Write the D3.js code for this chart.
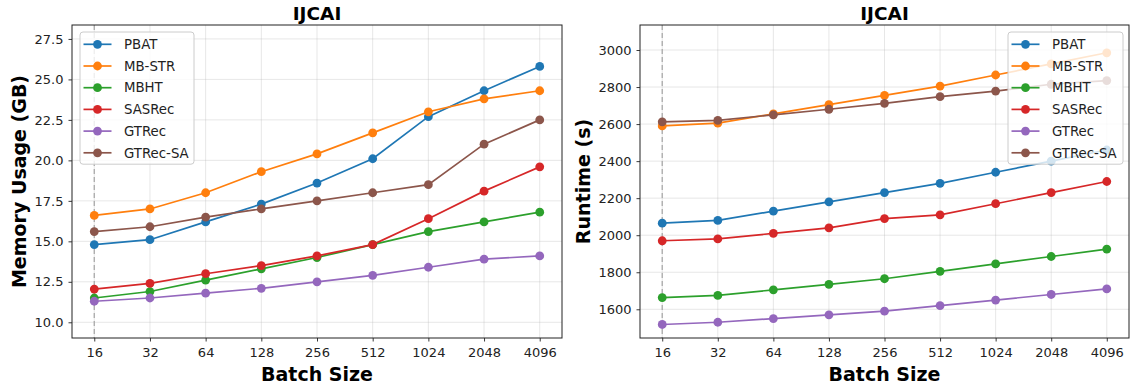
<!DOCTYPE html>
<html>
<head>
<meta charset="utf-8">
<script src="https://cdn.jsdelivr.net/npm/d3@7"></script>
<style>
  body { margin: 0; background: #fff; }
  svg { display: block; }
  text { font-family: "DejaVu Sans", sans-serif; }
</style>
</head>
<body>
<svg id="chart" width="1131" height="390"></svg>
<script>
// ---- data ----
const batchSizes = ["16", "32", "64", "128", "256", "512", "1024", "2048", "4096"];
const seriesNames = ["PBAT", "MB-STR", "MBHT", "SASRec", "GTRec", "GTRec-SA"];
const seriesColors = ["#1f77b4", "#ff7f0e", "#2ca02c", "#d62728", "#9467bd", "#8c564b"];

// Memory usage (GB)
const memPBAT    = [14.8, 15.1, 16.2, 17.3, 18.6, 20.1, 22.7, 24.3, 25.8];
const memMBSTR   = [16.6, 17.0, 18.0, 19.3, 20.4, 21.7, 23.0, 23.8, 24.3];
const memMBHT    = [11.5, 11.9, 12.6, 13.3, 14.0, 14.8, 15.6, 16.2, 16.8];
const memSASRec  = [12.05, 12.4, 13.0, 13.5, 14.1, 14.8, 16.4, 18.1, 19.6];
const memGTRec   = [11.3, 11.5, 11.8, 12.1, 12.5, 12.9, 13.4, 13.9, 14.1];
const memGTRecSA = [15.6, 15.9, 16.5, 17.0, 17.5, 18.0, 18.5, 21.0, 22.5];
const memTicks = [10.0, 12.5, 15.0, 17.5, 20.0, 22.5, 25.0, 27.5];

// Runtime (s)
const rtPBAT    = [2065, 2080, 2130, 2180, 2230, 2280, 2340, 2400, 2460];
const rtMBSTR   = [2590, 2605, 2655, 2705, 2755, 2805, 2865, 2925, 2985];
const rtMBHT    = [1663, 1675, 1705, 1735, 1765, 1805, 1845, 1885, 1925];
const rtSASRec  = [1970, 1980, 2010, 2040, 2090, 2110, 2170, 2230, 2290];
const rtGTRec   = [1518, 1530, 1550, 1570, 1590, 1620, 1650, 1680, 1710];
const rtGTRecSA = [2612, 2620, 2650, 2680, 2712, 2748, 2778, 2815, 2835];
const rtTicks = [1600, 1800, 2000, 2200, 2400, 2600, 2800, 3000];

const panels = [
  { title: "IJCAI", ylabel: "Memory Usage (GB)", series: [memPBAT, memMBSTR, memMBHT, memSASRec, memGTRec, memGTRecSA],
    yDomain: [9.03, 28.36], yTicks: memTicks, yFmt: d3.format(".1f"),
    box: { x0: 72, x1: 562, y0: 25, y1: 338 }, ylabelX: 26, legend: { x: 80, y: 32, w: 114 } },
  { title: "IJCAI", ylabel: "Runtime (s)", series: [rtPBAT, rtMBSTR, rtMBHT, rtSASRec, rtGTRec, rtGTRecSA],
    yDomain: [1445, 3135], yTicks: rtTicks, yFmt: d3.format("d"),
    box: { x0: 640, x1: 1129, y0: 25, y1: 338 }, ylabelX: 590, legend: { x: 1008, y: 32, w: 115 } }
];

const svg = d3.select("#chart");

panels.forEach(p => {
  const b = p.box;
  const x = d3.scaleLinear().domain([-0.4, batchSizes.length - 1 + 0.4]).range([b.x0, b.x1]);
  const y = d3.scaleLinear().domain(p.yDomain).range([b.y1, b.y0]);
  const g = svg.append("g");

  // grid
  g.append("g").selectAll("line.gx").data(batchSizes).join("line")
    .attr("x1", (d, i) => x(i)).attr("x2", (d, i) => x(i))
    .attr("y1", b.y0).attr("y2", b.y1)
    .attr("stroke", "#b0b0b0").attr("stroke-opacity", 0.35).attr("stroke-width", 0.9);
  g.append("g").selectAll("line.gy").data(p.yTicks).join("line")
    .attr("x1", b.x0).attr("x2", b.x1)
    .attr("y1", d => y(d)).attr("y2", d => y(d))
    .attr("stroke", "#b0b0b0").attr("stroke-opacity", 0.35).attr("stroke-width", 0.9);

  // dashed vertical at first batch size
  g.append("line")
    .attr("x1", x(0)).attr("x2", x(0)).attr("y1", b.y0).attr("y2", b.y1)
    .attr("stroke", "#aaaaaa").attr("stroke-width", 1.3).attr("stroke-dasharray", "5,3");

  // series
  const line = d3.line().x((d, i) => x(i)).y(d => y(d));
  p.series.forEach((vals, si) => {
    g.append("path").datum(vals)
      .attr("d", line).attr("fill", "none")
      .attr("stroke", seriesColors[si]).attr("stroke-width", 1.7);
    g.append("g").selectAll("circle").data(vals).join("circle")
      .attr("cx", (d, i) => x(i)).attr("cy", d => y(d)).attr("r", 4.4)
      .attr("fill", seriesColors[si]);
  });

  // axes
  const xAxis = d3.axisBottom(x).tickValues(d3.range(batchSizes.length))
    .tickFormat(i => batchSizes[i]).tickSize(3.5).tickPadding(6).tickSizeOuter(0);
  const yAxis = d3.axisLeft(y).tickValues(p.yTicks).tickFormat(p.yFmt)
    .tickSize(3.5).tickPadding(5).tickSizeOuter(0);
  const gx = g.append("g").attr("transform", `translate(0,${b.y1})`).call(xAxis);
  const gy = g.append("g").attr("transform", `translate(${b.x0},0)`).call(yAxis);
  [gx, gy].forEach(a => {
    a.select(".domain").remove();
    a.selectAll("line").attr("stroke", "#222").attr("stroke-width", 0.9);
    a.selectAll("text").attr("fill", "#222").style("font-size", "13px").style("font-family", "DejaVu Sans");
  });

  // frame
  g.append("rect").attr("x", b.x0).attr("y", b.y0)
    .attr("width", b.x1 - b.x0).attr("height", b.y1 - b.y0)
    .attr("fill", "none").attr("stroke", "#222").attr("stroke-width", 1);

  // title & labels
  g.append("text").attr("x", (b.x0 + b.x1) / 2).attr("y", 19.5)
    .attr("text-anchor", "middle").style("font-size", "18.5px").style("font-weight", "bold")
    .text(p.title);
  g.append("text").attr("x", (b.x0 + b.x1) / 2).attr("y", 381)
    .attr("text-anchor", "middle").style("font-size", "19px").style("font-weight", "bold")
    .text("Batch Size");
  g.append("text")
    .attr("transform", `translate(${p.ylabelX},${(b.y0 + b.y1) / 2}) rotate(-90)`)
    .attr("text-anchor", "middle").style("font-size", "19px").style("font-weight", "bold")
    .text(p.ylabel);

  // legend
  const L = p.legend;
  const rowH = 21.7;
  const lg = g.append("g");
  lg.append("rect").attr("x", L.x).attr("y", L.y).attr("width", L.w)
    .attr("height", rowH * seriesNames.length + 2)
    .attr("rx", 3).attr("fill", "#fff").attr("fill-opacity", 0.8)
    .attr("stroke", "#cccccc").attr("stroke-width", 1);
  seriesNames.forEach((name, si) => {
    const cy = L.y + 12.3 + si * rowH;
    lg.append("line").attr("x1", L.x + 3.5).attr("x2", L.x + 31.5)
      .attr("y1", cy).attr("y2", cy).attr("stroke", seriesColors[si]).attr("stroke-width", 1.7);
    lg.append("circle").attr("cx", L.x + 17.5).attr("cy", cy).attr("r", 4.4).attr("fill", seriesColors[si]);
    lg.append("text").attr("x", L.x + 44).attr("y", cy + 4.7)
      .style("font-size", "13.3px").attr("fill", "#222").text(name);
  });
});
</script>
</body>
</html>
